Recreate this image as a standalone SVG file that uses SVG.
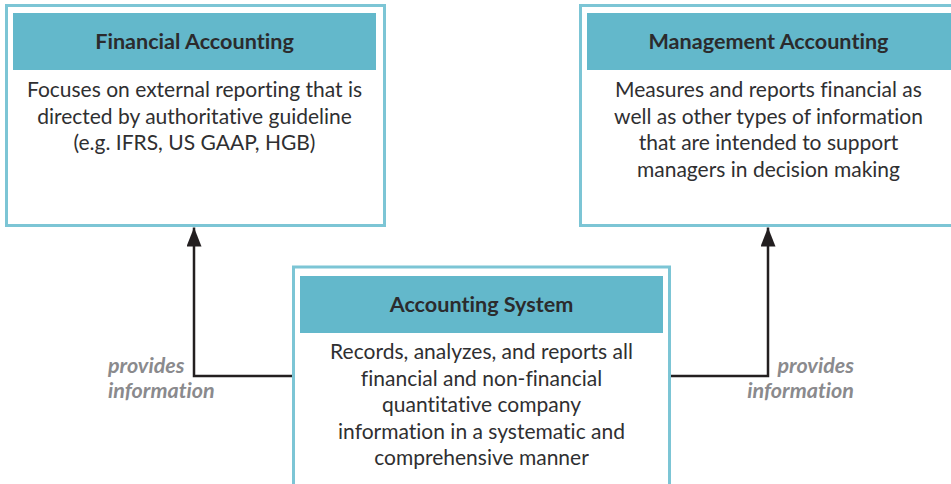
<svg xmlns="http://www.w3.org/2000/svg" width="951" height="484" viewBox="0 0 951 484">
<defs>
<style>
text{font-variant-ligatures:none;font-feature-settings:"liga" 0,"dlig" 0}
.box{fill:#fff;stroke:#7cc5d5;stroke-width:3}
.hdr{fill:#63b8cb}
.title{font-family:Lato,"Noto Sans",sans-serif;font-weight:bold;font-size:21.6px;fill:#2b2b2d;text-anchor:middle}
.body{font-family:Lato,"Noto Sans",sans-serif;font-size:21px;fill:#2f2f31;text-anchor:middle}
.lbl{font-family:Lato,"Noto Sans",sans-serif;font-weight:bold;font-style:italic;font-size:21.5px;fill:#8a8a8d}
.conn{fill:none;stroke:#231f20;stroke-width:2.5}
</style>
<marker id="arr" viewBox="0 0 19 15" refX="19" refY="7.5" markerWidth="19" markerHeight="15" markerUnits="userSpaceOnUse" orient="auto">
<path d="M0,0 L19,7.5 L0,15 Z" fill="#231f20"/>
</marker>
</defs>
<rect width="951" height="484" fill="#fff"/>
<g id="financial-accounting">
<rect class="box" x="6.5" y="5.5" width="378" height="220"/>
<rect class="hdr" x="13" y="13" width="363" height="57"/>
<text class="title" x="194.5" y="49">Financial Accounting</text>
<text class="body" x="194.5" y="97">Focuses on external reporting that is</text>
<text class="body" x="194.5" y="123.5">directed by authoritative guideline</text>
<text class="body" x="194.5" y="150">(e.g. IFRS, US GAAP, HGB)</text>
</g>
<g id="management-accounting">
<rect class="box" x="580.5" y="5.5" width="378" height="220"/>
<rect class="hdr" x="587" y="13" width="364" height="57"/>
<text class="title" x="768.5" y="49">Management Accounting</text>
<text class="body" x="768.5" y="97">Measures and reports financial as</text>
<text class="body" x="768.5" y="123.5">well as other types of information</text>
<text class="body" x="768.5" y="150">that are intended to support</text>
<text class="body" x="768.5" y="176.5">managers in decision making</text>
</g>
<g id="accounting-system">
<rect class="box" x="293.5" y="267" width="376" height="230"/>
<rect class="hdr" x="300" y="276" width="363" height="57"/>
<text class="title" x="481.5" y="312">Accounting System</text>
<text class="body" x="481.5" y="359">Records, analyzes, and reports all</text>
<text class="body" x="481.5" y="385.5">financial and non-financial</text>
<text class="body" x="481.5" y="412">quantitative company</text>
<text class="body" x="481.5" y="438.5">information in a systematic and</text>
<text class="body" x="481.5" y="465">comprehensive manner</text>
</g>
<g id="connectors">
<path class="conn" d="M292,376 H194 V227.5" marker-end="url(#arr)"/>
<path class="conn" d="M671,376 H768 V227.5" marker-end="url(#arr)"/>
<text class="lbl" x="108" y="373">provides</text>
<text class="lbl" x="108" y="398">information</text>
<text class="lbl" x="854" y="373" text-anchor="end">provides</text>
<text class="lbl" x="854" y="398" text-anchor="end">information</text>
</g>
</svg>
